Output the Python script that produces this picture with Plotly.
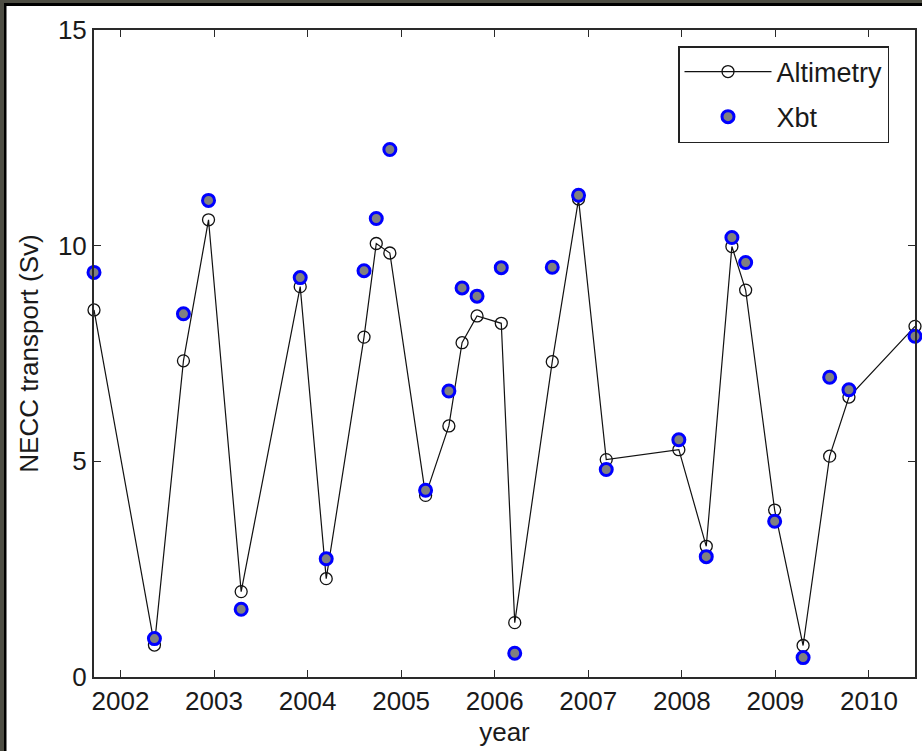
import plotly.graph_objects as go

# Sampling dates (decimal years) shared by both records
years = [2001.717, 2002.363, 2002.673, 2002.941, 2003.290, 2003.921, 2004.199,
         2004.603, 2004.734, 2004.879, 2005.261, 2005.510, 2005.651, 2005.811,
         2006.070, 2006.214, 2006.615, 2006.896, 2007.192, 2007.968, 2008.261,
         2008.535, 2008.682, 2008.992, 2009.296, 2009.580, 2009.786, 2010.492]

# NECC transport (Sv) from altimetry
altimetry = [8.51, 0.74, 7.33, 10.60, 1.98, 9.05, 2.28,
             7.88, 10.05, 9.83, 4.21, 5.82, 7.75, 8.37,
             8.20, 1.26, 7.31, 11.08, 5.04, 5.27, 3.03,
             9.98, 8.97, 3.87, 0.73, 5.12, 6.49, 8.13]

# NECC transport (Sv) from XBT sections
xbt = [9.38, 0.89, 8.42, 11.05, 1.57, 9.26, 2.74,
       9.42, 10.63, 12.23, 4.33, 6.63, 9.02, 8.83,
       9.49, 0.55, 9.50, 11.17, 4.81, 5.50, 2.79,
       10.19, 9.61, 3.61, 0.45, 6.95, 6.66, 7.90]

x_ticks = list(range(2002, 2011))
y_ticks = [0, 5, 10, 15]

FONT = "Liberation Sans, Arial, Helvetica, sans-serif"
W, H = 922, 751
L, R, T, B = 94, 7, 30, 74

fig = go.Figure()
fig.add_trace(go.Scatter(
    x=years, y=altimetry, name="Altimetry", mode="lines+markers",
    line=dict(color="#111111", width=1.2),
    marker=dict(symbol="circle-open", size=12, color="#111111",
                line=dict(width=1.3, color="#111111")),
    legendgroup="a", cliponaxis=False,
))
fig.add_trace(go.Scatter(
    x=years, y=xbt, name="Xbt", mode="markers",
    marker=dict(symbol="circle", size=12, color="#808080",
                line=dict(width=3, color="#0000ff")),
    legendgroup="b", cliponaxis=False,
))

axis_common = dict(
    showline=True, linecolor="#2a2a2a", linewidth=2, mirror="ticks",
    ticks="inside", ticklen=7, tickwidth=1.2, tickcolor="#2a2a2a",
    showgrid=False, zeroline=False,
    tickfont=dict(family=FONT, size=26, color="#1a1a1a"),
)

fig.update_xaxes(
    range=[min(years), max(years)], tickvals=x_ticks,
    ticktext=[str(v) for v in x_ticks],
    title=dict(text="year", font=dict(family=FONT, size=26, color="#1a1a1a"),
               standoff=8),
    **axis_common,
)
fig.update_yaxes(
    range=[0, 15], tickvals=y_ticks,
    title=dict(text="NECC transport (Sv)",
               font=dict(family=FONT, size=26, color="#1a1a1a"), standoff=12),
    **axis_common,
)

# dark frame along the top and left edges of the figure
def px_x(p):
    return (p - L) / (W - L - R)

def px_y(p):
    return (H - B - p) / (H - T - B)

frame = [
    (0, 0, 4, H, "#4d4d43"),
    (0, 0, W, 3, "#4d4d43"),
    (4, 3, 6.5, H, "#000000"),
    (4, 3, W, 6, "#000000"),
]
for x0, y0, x1, y1, c in frame:
    fig.add_shape(type="rect", xref="paper", yref="paper",
                  x0=px_x(x0), x1=px_x(x1), y0=px_y(y1), y1=px_y(y0),
                  fillcolor=c, line=dict(width=0), layer="above")

fig.update_layout(
    width=W, height=H,
    margin=dict(l=L, r=R, t=T, b=B, autoexpand=False),
    paper_bgcolor="white", plot_bgcolor="white",
    font=dict(family=FONT, size=26, color="#1a1a1a"),
    showlegend=True,
    legend=dict(
        x=px_x(889), xanchor="right", y=px_y(46), yanchor="top",
        bgcolor="white", bordercolor="#222222", borderwidth=1.5,
        font=dict(family=FONT, size=27, color="#1a1a1a"),
        traceorder="grouped", tracegroupgap=7, itemwidth=87,
    ),
)

fig.write_html("out.html")
